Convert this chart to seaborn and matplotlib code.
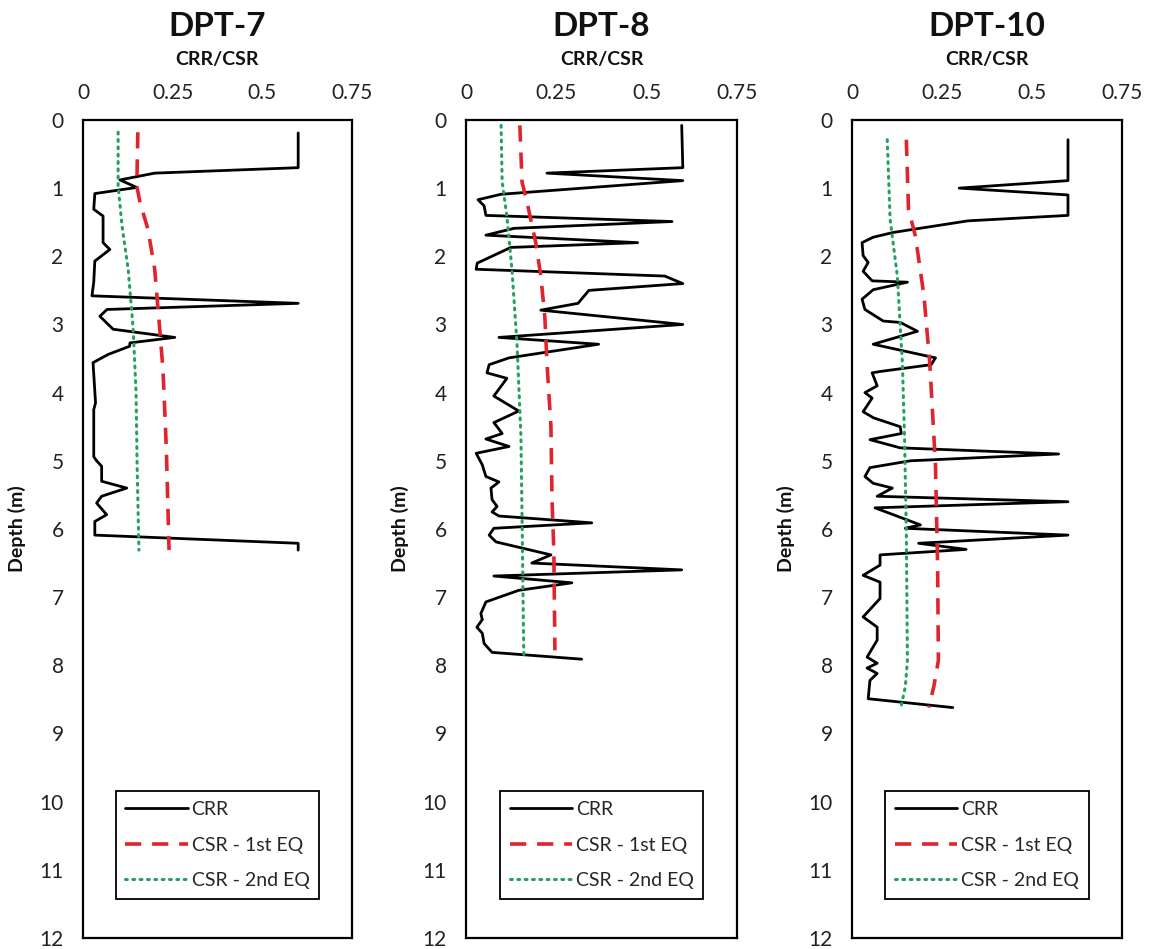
import numpy as np
import pandas as pd
import matplotlib
matplotlib.use("Agg")
import matplotlib.pyplot as plt
import seaborn as sns

# ---- data (depth in m, ratio values) ----
titles = ["DPT-7", "DPT-8", "DPT-10"]
x_ticks = [0, 0.25, 0.5, 0.75]
x_tick_labels = ["0", "0.25", "0.5", "0.75"]
depth_ticks = list(range(0, 13))

# DPT-7
crr7_depth = [0.19, 0.70, 0.78, 0.88, 0.99, 1.08, 1.31, 1.41, 1.80, 1.90, 2.07, 2.38,
              2.58, 2.69, 2.78, 2.88, 3.07, 3.19, 3.27, 3.32, 3.44, 3.56, 4.15, 4.25,
              4.94, 5.00, 5.08, 5.30, 5.40, 5.52, 5.62, 5.79, 5.89, 6.09, 6.21, 6.31]
crr7 = [0.60, 0.60, 0.20, 0.103, 0.15, 0.033, 0.030, 0.056, 0.056, 0.075, 0.033, 0.030,
        0.025, 0.60, 0.067, 0.047, 0.084, 0.256, 0.131, 0.130, 0.070, 0.028, 0.035, 0.030,
        0.030, 0.038, 0.052, 0.052, 0.122, 0.052, 0.038, 0.066, 0.033, 0.033, 0.60, 0.60]
csr1_7_depth = [0.18, 0.97, 1.21, 1.60, 2.19, 3.07, 3.66, 4.64, 4.94, 6.31]
csr1_7 = [0.153, 0.150, 0.159, 0.181, 0.200, 0.214, 0.223, 0.231, 0.233, 0.240]
csr2_7_depth = [0.18, 0.97, 1.56, 2.19, 3.07, 4.00, 5.08, 6.31]
csr2_7 = [0.098, 0.098, 0.109, 0.126, 0.140, 0.148, 0.151, 0.156]

# DPT-8
crr8_depth = [0.08, 0.70, 0.78, 0.89, 1.09, 1.17, 1.26, 1.40, 1.49, 1.59, 1.69, 1.80,
              1.87, 2.10, 2.19, 2.29, 2.40, 2.50, 2.69, 2.79, 3.00, 3.19, 3.29, 3.49,
              3.59, 3.71, 3.79, 4.05, 4.27, 4.44, 4.50, 4.60, 4.68, 4.79, 4.89, 5.06,
              5.23, 5.31, 5.40, 5.57, 5.67, 5.75, 5.81, 5.91, 5.99, 6.09, 6.19, 6.38,
              6.50, 6.60, 6.69, 6.79, 6.90, 7.07, 7.24, 7.33, 7.44, 7.53, 7.68, 7.81, 7.91]
crr8 = [0.597, 0.600, 0.224, 0.600, 0.097, 0.033, 0.050, 0.055, 0.570, 0.133, 0.055, 0.475,
        0.124, 0.031, 0.028, 0.550, 0.600, 0.340, 0.310, 0.207, 0.600, 0.091, 0.367, 0.119,
        0.064, 0.058, 0.113, 0.077, 0.146, 0.077, 0.086, 0.100, 0.055, 0.119, 0.028, 0.045,
        0.055, 0.091, 0.069, 0.072, 0.086, 0.072, 0.091, 0.348, 0.077, 0.064, 0.083, 0.235,
        0.182, 0.597, 0.077, 0.293, 0.146, 0.055, 0.041, 0.045, 0.030, 0.045, 0.050, 0.072, 0.320]
csr1_8_depth = [0.08, 0.91, 1.21, 1.80, 2.29, 2.88, 3.56, 4.50, 5.57, 6.31, 7.78]
csr1_8 = [0.149, 0.155, 0.169, 0.193, 0.207, 0.218, 0.224, 0.235, 0.238, 0.243, 0.246]
csr2_8_depth = [0.08, 0.91, 1.41, 2.19, 3.27, 4.64, 5.82, 7.90]
csr2_8 = [0.097, 0.100, 0.113, 0.127, 0.141, 0.152, 0.155, 0.160]

# DPT-10
crr10_depth = [0.29, 0.89, 1.00, 1.10, 1.40, 1.48, 1.65, 1.72, 1.80, 1.99, 2.09, 2.22,
               2.36, 2.38, 2.49, 2.63, 2.78, 2.95, 2.97, 3.10, 3.29, 3.49, 3.59, 3.69,
               3.71, 3.90, 4.00, 4.08, 4.28, 4.37, 4.50, 4.60, 4.69, 4.81, 4.90, 5.00,
               5.10, 5.23, 5.33, 5.40, 5.52, 5.60, 5.69, 5.94, 5.99, 6.09, 6.21, 6.30,
               6.38, 6.53, 6.68, 6.78, 7.02, 7.29, 7.44, 7.63, 7.88, 7.97, 8.04, 8.12,
               8.22, 8.49, 8.62]
crr10 = [0.600, 0.600, 0.298, 0.600, 0.600, 0.322, 0.115, 0.059, 0.028, 0.031, 0.045, 0.031,
         0.056, 0.154, 0.059, 0.028, 0.036, 0.087, 0.134, 0.182, 0.059, 0.232, 0.220, 0.078,
         0.056, 0.070, 0.036, 0.056, 0.031, 0.060, 0.134, 0.137, 0.050, 0.134, 0.574, 0.162,
         0.050, 0.036, 0.059, 0.112, 0.070, 0.600, 0.064, 0.190, 0.148, 0.600, 0.185, 0.317,
         0.078, 0.078, 0.031, 0.078, 0.078, 0.031, 0.070, 0.070, 0.042, 0.070, 0.042, 0.070,
         0.050, 0.045, 0.280]
csr1_10_depth = [0.29, 1.31, 1.70, 2.58, 3.56, 4.59, 5.08, 6.56, 7.93, 8.32, 8.62]
csr1_10 = [0.151, 0.157, 0.176, 0.200, 0.216, 0.227, 0.232, 0.238, 0.240, 0.227, 0.213]
csr2_10_depth = [0.29, 1.46, 2.29, 3.56, 4.64, 6.06, 7.93, 8.32, 8.59]
csr2_10 = [0.098, 0.106, 0.126, 0.140, 0.146, 0.151, 0.154, 0.148, 0.137]

panels = [
    (crr7_depth, crr7, csr1_7_depth, csr1_7, csr2_7_depth, csr2_7),
    (crr8_depth, crr8, csr1_8_depth, csr1_8, csr2_8_depth, csr2_8),
    (crr10_depth, crr10, csr1_10_depth, csr1_10, csr2_10_depth, csr2_10),
]

sns.set_theme(style="white")
plt.rcParams["font.family"] = ["Lato", "DejaVu Sans"]

RED = "#e0242c"
GREEN = "#23a062"

fig = plt.figure(figsize=(11.51, 9.49), dpi=100)
lefts = [0.0721, 0.4049, 0.7402]
widths = [0.2337, 0.2354, 0.2346]

for i, (title, data) in enumerate(zip(titles, panels)):
    ax = fig.add_axes([lefts[i], 0.0116, widths[i], 0.862])
    d_crr, v_crr, d_c1, v_c1, d_c2, v_c2 = data

    sns.lineplot(x=v_crr, y=d_crr, sort=False, estimator=None, ax=ax,
                 color="black", lw=2.0, label="CRR")
    sns.lineplot(x=v_c1, y=d_c1, sort=False, estimator=None, ax=ax,
                 color=RED, lw=2.6, label="CSR - 1st EQ")
    sns.lineplot(x=v_c2, y=d_c2, sort=False, estimator=None, ax=ax,
                 color=GREEN, lw=2.2, label="CSR - 2nd EQ")
    ax.lines[1].set_linestyle((0, (4.5, 3)))
    ax.lines[2].set_linestyle((0, (0.6, 1.8)))
    ax.lines[2].set_dash_capstyle("round")

    ax.set_xlim(0, 0.75)
    ax.set_ylim(12, 0)
    ax.set_xticks(x_ticks)
    ax.set_xticklabels(x_tick_labels)
    ax.set_yticks(depth_ticks)
    ax.xaxis.tick_top()
    ax.tick_params(axis="x", length=0, pad=12, labelsize=15, colors="#222222")
    ax.tick_params(axis="y", length=0, pad=14, labelsize=15, colors="#222222")
    for s in ax.spines.values():
        s.set_visible(True)
        s.set_color("black")
        s.set_linewidth(1.6)
    ax.grid(False)

    ax.set_xlabel("")
    ax.set_ylabel("Depth (m)", fontsize=14, fontweight="bold", color="#111111")
    ax.yaxis.set_label_coords(-0.21, 0.5)
    ax.text(0.5, 1.0733, "CRR/CSR", transform=ax.transAxes, ha="center", va="center",
            fontsize=14, fontweight="bold", color="#111111")
    ax.text(0.5, 1.114, title, transform=ax.transAxes, ha="center", va="center",
            fontsize=24, fontweight="bold", color="#111111")

    leg = ax.legend(loc="lower center", bbox_to_anchor=(0.5, 0.036), fontsize=14,
                    frameon=True, fancybox=False, edgecolor="black", framealpha=1,
                    handlelength=3.2, labelspacing=0.95, borderpad=0.5, handletextpad=0.2)
    leg.get_frame().set_linewidth(1.3)

fig.savefig("out.png", dpi=100)
